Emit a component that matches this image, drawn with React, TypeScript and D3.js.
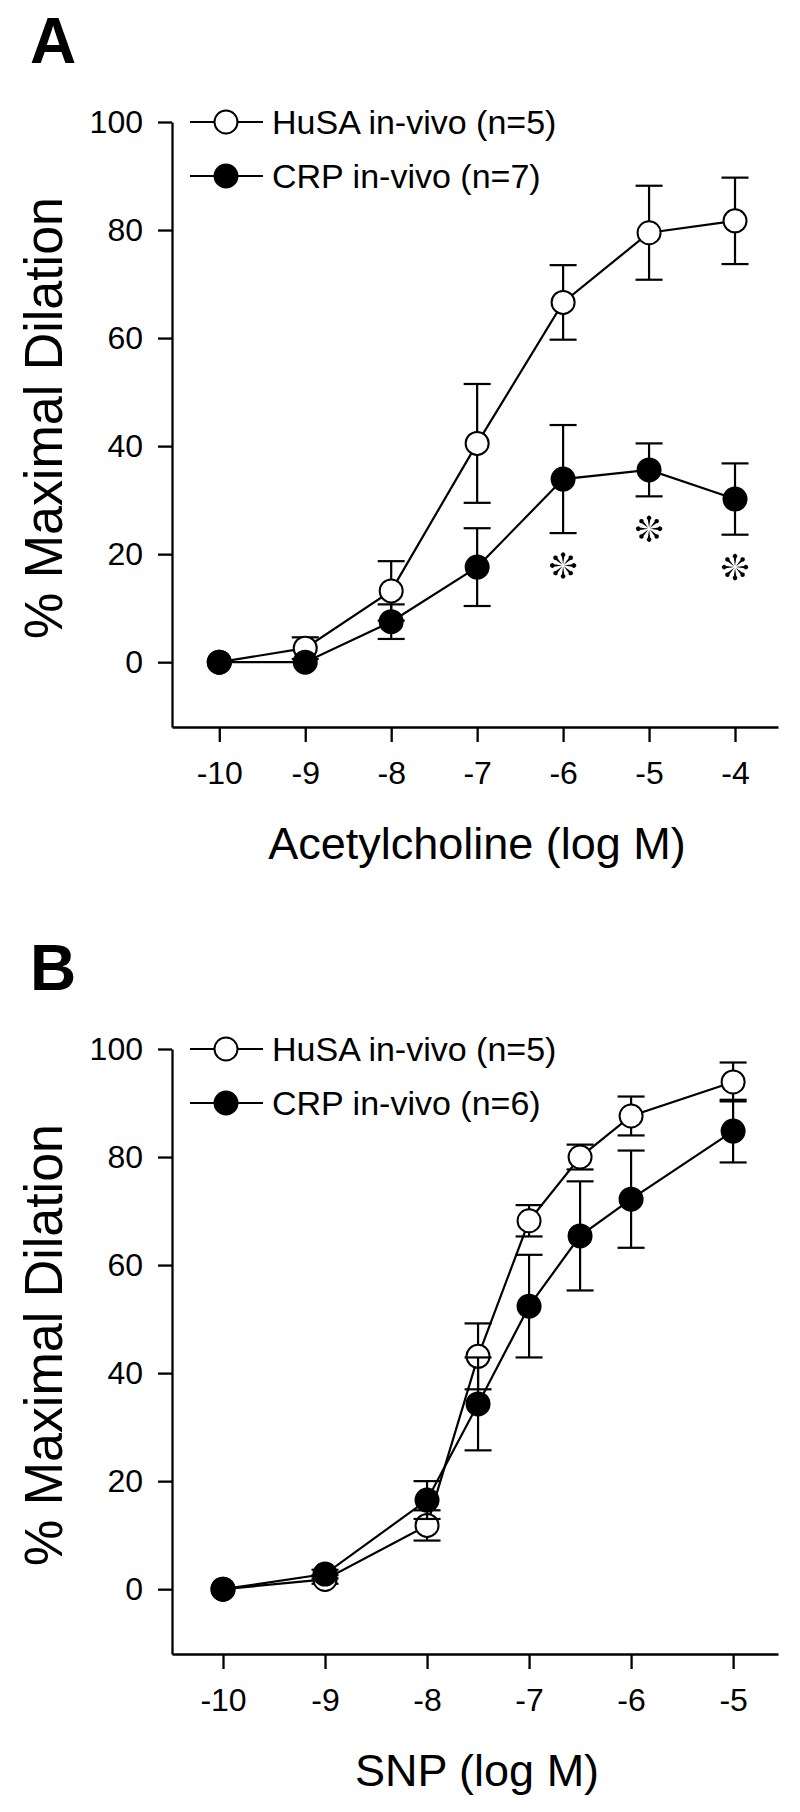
import React, { useRef, useEffect } from "react";
import * as d3 from "d3";

const FONT = "'Liberation Sans', Arial, Helvetica, sans-serif";

// shared
const yTicks = [0, 20, 40, 60, 80, 100];

// panel A - acetylcholine
const achDose = [-10, -9, -8, -7, -6, -5, -4];
const achHusaMean = [0, 2.6, 13.2, 40.5, 66.6, 79.5, 81.7];
const achHusaSe = [0, 2, 5.5, 11, 6.9, 8.7, 8];
const achCrpMean = [0, 0, 7.5, 17.6, 33.9, 35.6, 30.2];
const achCrpSe = [0, 0, 3.2, 7.2, 10, 4.9, 6.6];
const achStars = [-6, -5, -4];
const achTicks = [-10, -9, -8, -7, -6, -5, -4];

// panel B - SNP
const snpDose = [-10, -9, -8, -7.5, -7, -6.5, -6, -5];
const snpHusaMean = [0, 1.8, 11.8, 43.1, 68.2, 80.0, 87.6, 93.9];
const snpHusaSe = [0, 0.8, 2.8, 6.1, 2.9, 2.3, 3.6, 3.6];
const snpCrpMean = [0, 2.8, 16.5, 34.3, 52.4, 65.4, 72.2, 84.8];
const snpCrpSe = [0, 0.8, 3.5, 8.6, 9.5, 10.1, 9, 5.8];
const snpStars: number[] = [];
const snpTicks = [-10, -9, -8, -7, -6, -5];

const panels = [
  {
    letter: "A",
    top: 0,
    xDomain: [-10.55, -3.5],
    ticks: achTicks,
    xLabel: "Acetylcholine (log M)",
    dose: achDose,
    husa: achHusaMean,
    husaSe: achHusaSe,
    crp: achCrpMean,
    crpSe: achCrpSe,
    husaLabel: "HuSA in-vivo (n=5)",
    crpLabel: "CRP in-vivo (n=7)",
    stars: achStars,
  },
  {
    letter: "B",
    top: 927,
    xDomain: [-10.5, -4.56],
    ticks: snpTicks,
    xLabel: "SNP (log M)",
    dose: snpDose,
    husa: snpHusaMean,
    husaSe: snpHusaSe,
    crp: snpCrpMean,
    crpSe: snpCrpSe,
    husaLabel: "HuSA in-vivo (n=5)",
    crpLabel: "CRP in-vivo (n=6)",
    stars: snpStars,
  },
];

// teardrop-spoked asterisk, like the one in the original figure
const drawStar = (g: any, cx: number, cy: number) => {
  const s = g.append("g").attr("transform", `translate(${cx},${cy})`);
  d3.range(8).forEach((k) => {
    s.append("path")
      .attr("d", "M0,-1 L-1.2,-9 A2.2,2.2 0 1,1 1.2,-9 Z")
      .attr("transform", `rotate(${k * 45})`)
      .attr("fill", "#000");
  });
};

const drawPanel = (svg: any, p: any) => {
  const g = svg.append("g").attr("transform", `translate(0,${p.top})`);
  const x = d3.scaleLinear().domain(p.xDomain).range([172, 778]);
  const y = d3.scaleLinear().domain([-12, 100]).range([727, 122]);

  const yAxis = g
    .append("g")
    .attr("transform", "translate(172,0)")
    .call(
      d3.axisLeft(y).tickValues(yTicks).tickSize(14).tickSizeOuter(0).tickPadding(15)
    );
  const xAxis = g
    .append("g")
    .attr("transform", "translate(0,727)")
    .call(
      d3
        .axisBottom(x)
        .tickValues(p.ticks)
        .tickSize(15)
        .tickSizeOuter(0)
        .tickPadding(19)
        .tickFormat((d: any) => String(d))
    );
  [yAxis, xAxis].forEach((a) => {
    a.attr("font-family", FONT).attr("font-size", 32);
    a.selectAll("path, line").attr("stroke", "#000").attr("stroke-width", 2.3);
    a.selectAll("text").attr("fill", "#000");
  });

  g.append("text")
    .attr("x", 30)
    .attr("y", 63)
    .attr("font-family", FONT)
    .attr("font-weight", "bold")
    .attr("font-size", 64)
    .text(p.letter);

  g.append("text")
    .attr("transform", "translate(62,418) rotate(-90)")
    .attr("text-anchor", "middle")
    .attr("font-family", FONT)
    .attr("font-size", 54)
    .attr("textLength", 442)
    .attr("lengthAdjust", "spacingAndGlyphs")
    .text("% Maximal Dilation");

  g.append("text")
    .attr("x", 477)
    .attr("y", 859)
    .attr("text-anchor", "middle")
    .attr("font-family", FONT)
    .attr("font-size", 45)
    .text(p.xLabel);

  const series = [
    { mean: p.husa, se: p.husaSe, fill: "#fff" },
    { mean: p.crp, se: p.crpSe, fill: "#000" },
  ];

  series.forEach((s) => {
    const pts = p.dose.map((d: number, i: number) => ({ x: d, m: s.mean[i], se: s.se[i] }));
    const line = d3
      .line<any>()
      .x((d) => x(d.x))
      .y((d) => y(d.m));
    g.append("path")
      .attr("d", line(pts))
      .attr("fill", "none")
      .attr("stroke", "#000")
      .attr("stroke-width", 2.2);

    const eb = g
      .append("g")
      .selectAll("g")
      .data(pts.filter((d: any) => d.se > 0))
      .enter()
      .append("g")
      .attr("stroke", "#000")
      .attr("stroke-width", 2.2);
    eb.append("line")
      .attr("x1", (d: any) => x(d.x))
      .attr("x2", (d: any) => x(d.x))
      .attr("y1", (d: any) => y(d.m - d.se))
      .attr("y2", (d: any) => y(d.m + d.se));
    [1, -1].forEach((sign) => {
      eb.append("line")
        .attr("x1", (d: any) => x(d.x) - 13.5)
        .attr("x2", (d: any) => x(d.x) + 13.5)
        .attr("y1", (d: any) => y(d.m + sign * d.se))
        .attr("y2", (d: any) => y(d.m + sign * d.se));
    });

    g.append("g")
      .selectAll("circle")
      .data(pts)
      .enter()
      .append("circle")
      .attr("cx", (d: any) => x(d.x))
      .attr("cy", (d: any) => y(d.m))
      .attr("r", 11.5)
      .attr("fill", s.fill)
      .attr("stroke", "#000")
      .attr("stroke-width", 2);
  });

  // significance markers under the CRP points
  p.stars.forEach((dose: number) => {
    const i = p.dose.indexOf(dose);
    drawStar(g, x(dose), y(p.crp[i] - p.crpSe[i] - 6));
  });

  // legend
  const legend = [
    { label: p.husaLabel, fill: "#fff" },
    { label: p.crpLabel, fill: "#000" },
  ];
  legend.forEach((l, i) => {
    const ly = y(100) + i * 54;
    g.append("line")
      .attr("x1", 190)
      .attr("x2", 263)
      .attr("y1", ly)
      .attr("y2", ly)
      .attr("stroke", "#000")
      .attr("stroke-width", 2.2);
    g.append("circle")
      .attr("cx", 226)
      .attr("cy", ly)
      .attr("r", 11.5)
      .attr("fill", l.fill)
      .attr("stroke", "#000")
      .attr("stroke-width", 2);
    g.append("text")
      .attr("x", 272)
      .attr("y", ly + 12)
      .attr("font-family", FONT)
      .attr("font-size", 34)
      .text(l.label);
  });
};

const App = () => {
  const ref = useRef<SVGSVGElement>(null);

  useEffect(() => {
    const svg = d3.select(ref.current);
    svg.selectAll("*").remove();
    svg.append("rect").attr("width", 800).attr("height", 1812).attr("fill", "#fff");
    panels.forEach((p) => drawPanel(svg, p));
    return () => {
      svg.selectAll("*").remove();
    };
  }, []);

  return (
    <svg
      ref={ref}
      width={800}
      height={1812}
      style={{ position: "absolute", left: 0, top: 0, display: "block" }}
    />
  );
};

export default App;
